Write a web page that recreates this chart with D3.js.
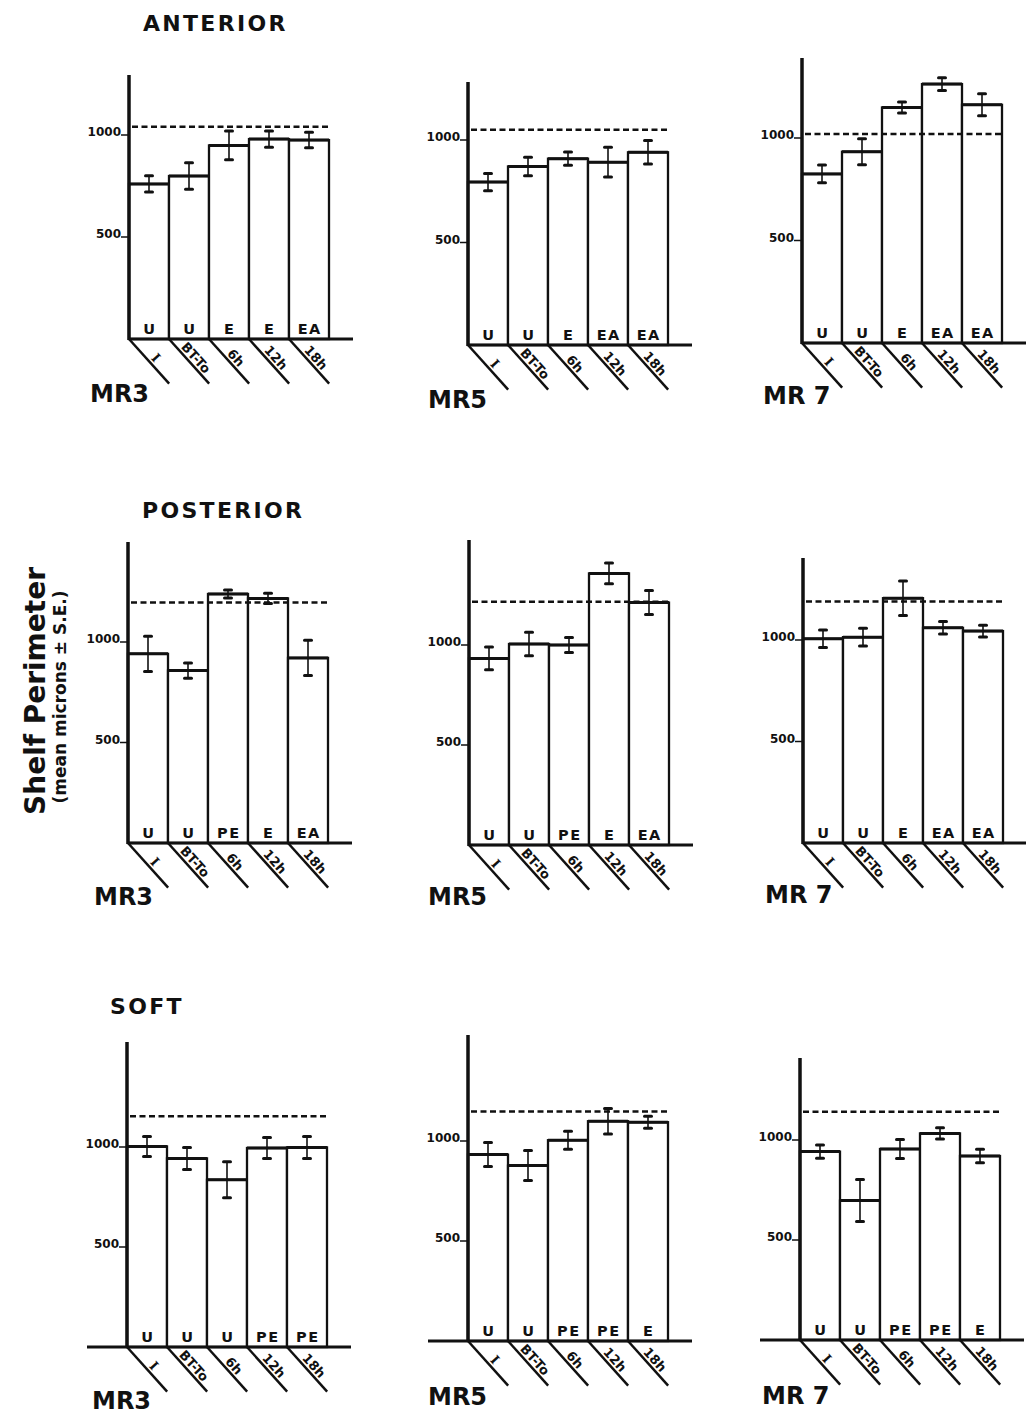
<!DOCTYPE html>
<html>
<head>
<meta charset="utf-8">
<script src="https://cdn.jsdelivr.net/npm/d3@7"></script>
<style>
body { margin: 0; background: #fff; }
text { font-family: "DejaVu Sans", sans-serif; font-weight: bold; fill: #111; }
</style>
</head>
<body>
<script>
var width = 1026,
	height = 1416;

// categories
var sections = ["ANTERIOR", "POSTERIOR", "SOFT"];
var strains = ["MR3", "MR5", "MR 7"];
var timepoints = ["I", "BT-To", "6h", "12h", "18h"];
var yTicks = [500, 1000];

// one row per panel: anterior MR3, MR5, MR7, posterior MR3, MR5, MR7, soft MR3, MR5, MR7
var means = [
	[760, 799, 949, 980, 975],
	[795, 871, 909, 892, 940],
	[825, 933, 1149, 1263, 1162],
	[941, 858, 1239, 1217, 921],
	[933, 1005, 1000, 1358, 1212],
	[1006, 1014, 1206, 1060, 1044],
	[1003, 943, 836, 995, 998],
	[932, 877, 1004, 1099, 1094],
	[942, 697, 955, 1033, 920]
];
var errors = [
	[40, 65, 70, 40, 38],
	[42, 45, 32, 73, 57],
	[43, 63, 27, 31, 54],
	[88, 38, 20, 25, 88],
	[57, 59, 38, 52, 60],
	[43, 44, 85, 31, 29],
	[50, 55, 90, 52, 55],
	[60, 75, 45, 64, 30],
	[33, 105, 48, 28, 34]
];
var stages = [
	["U", "U", "E", "E", "EA"],
	["U", "U", "E", "EA", "EA"],
	["U", "U", "E", "EA", "EA"],
	["U", "U", "PE", "E", "EA"],
	["U", "U", "PE", "E", "EA"],
	["U", "U", "E", "EA", "EA"],
	["U", "U", "U", "PE", "PE"],
	["U", "U", "PE", "PE", "E"],
	["U", "U", "PE", "PE", "E"]
];
// dashed control level per panel
var controls = [1040, 1050, 1020, 1197, 1216, 1190, 1154, 1147, 1141];

// where each panel sits on the page (scanned figure, so they differ a little)
var layout = [
	{ax: 129, y0: 339, y1000: 135, top: 75, lx: 90, ly: 402},
	{ax: 468, y0: 345, y1000: 140, top: 82, lx: 428, ly: 408},
	{ax: 802, y0: 343, y1000: 138, top: 58, lx: 763, ly: 404},
	{ax: 128, y0: 843, y1000: 642, top: 542, lx: 94, ly: 905},
	{ax: 469, y0: 845, y1000: 645, top: 540, lx: 428, ly: 905},
	{ax: 803, y0: 843, y1000: 640, top: 558, lx: 765, ly: 903},
	{ax: 127, y0: 1347, y1000: 1147, top: 1042, lx: 92, ly: 1409},
	{ax: 468, y0: 1341, y1000: 1141, top: 1035, lx: 428, ly: 1405},
	{ax: 800, y0: 1340, y1000: 1140, top: 1058, lx: 762, ly: 1404}
];
var titlePos = [[143, 31], [142, 518], [110, 1014]];

var svg = d3.select("body").append("svg")
	.attr("width", width)
	.attr("height", height);

// section titles
svg.selectAll("text.section")
	.data(sections)
.enter().append("text")
	.attr("class", "section")
	.attr("x", function(d, i) { return titlePos[i][0]; })
	.attr("y", function(d, i) { return titlePos[i][1]; })
	.style("font-size", "22px")
	.style("letter-spacing", "2.3px")
	.text(function(d) { return d; });

// shared y axis title
svg.append("text")
	.attr("transform", "translate(45,691) rotate(-90)")
	.attr("text-anchor", "middle")
	.style("font-size", "28px")
	.text("Shelf Perimeter");
svg.append("text")
	.attr("transform", "translate(66,697) rotate(-90)")
	.attr("text-anchor", "middle")
	.style("font-size", "17px")
	.text("(mean microns ± S.E.)");

var ang = 48 * Math.PI / 180,
	diagLen = 60;

function drawPanel(p) {
	var L = layout[p];
	var row = Math.floor(p / 3);
	var g = svg.append("g");

	var x = d3.scaleBand()
		.domain(timepoints)
		.range([L.ax, L.ax + 200])
		.padding(0);
	var y = d3.scaleLinear()
		.domain([0, 1000])
		.range([L.y0, L.y1000]);

	var data = timepoints.map(function(t, i) {
		return {t: t, mean: means[p][i], se: errors[p][i], stage: stages[p][i]};
	});

	// bars
	g.selectAll("rect")
		.data(data)
	.enter().append("rect")
		.attr("x", function(d) { return x(d.t); })
		.attr("y", function(d) { return y(d.mean); })
		.attr("width", x.bandwidth())
		.attr("height", function(d) { return L.y0 - y(d.mean); })
		.attr("fill", "#fff")
		.attr("stroke", "#111")
		.attr("stroke-width", 2.3);
	g.selectAll("line.top")
		.data(data)
	.enter().append("line")
		.attr("class", "top")
		.attr("x1", function(d) { return x(d.t); })
		.attr("x2", function(d) { return x(d.t) + x.bandwidth(); })
		.attr("y1", function(d) { return y(d.mean); })
		.attr("y2", function(d) { return y(d.mean); })
		.attr("stroke", "#111")
		.attr("stroke-width", 3);

	// control level
	g.append("line")
		.attr("x1", L.ax + 3)
		.attr("x2", L.ax + 200)
		.attr("y1", y(controls[p]))
		.attr("y2", y(controls[p]))
		.attr("stroke", "#111")
		.attr("stroke-width", 2.5)
		.attr("stroke-dasharray", "6,3.5");

	// error bars
	var cx = function(d) { return x(d.t) + x.bandwidth() / 2; };
	g.selectAll("line.err")
		.data(data)
	.enter().append("line")
		.attr("class", "err")
		.attr("x1", cx).attr("x2", cx)
		.attr("y1", function(d) { return y(d.mean + d.se); })
		.attr("y2", function(d) { return y(d.mean - d.se); })
		.attr("stroke", "#111")
		.attr("stroke-width", 1.6);
	[1, -1].forEach(function(s) {
		g.selectAll("line.cap" + (s > 0 ? "u" : "d"))
			.data(data)
		.enter().append("line")
			.attr("x1", function(d) { return cx(d) - 3.5; })
			.attr("x2", function(d) { return cx(d) + 3.5; })
			.attr("y1", function(d) { return y(d.mean + s * d.se); })
			.attr("y2", function(d) { return y(d.mean + s * d.se); })
			.attr("stroke", "#111")
			.attr("stroke-width", 3)
			.attr("stroke-linecap", "round");
	});

	// stage letters inside bars
	g.selectAll("text.stage")
		.data(data)
	.enter().append("text")
		.attr("class", "stage")
		.attr("x", function(d) { return cx(d) + 0.8; })
		.attr("y", L.y0 - 5)
		.attr("text-anchor", "middle")
		.style("font-size", "14.5px")
		.style("letter-spacing", "1.5px")
		.text(function(d) { return d.stage; });

	// y axis, ticks and baseline
	g.append("line")
		.attr("x1", L.ax).attr("x2", L.ax)
		.attr("y1", L.top).attr("y2", L.y0 + 1)
		.attr("stroke", "#111")
		.attr("stroke-width", 3.5);
	g.selectAll("line.tick")
		.data(yTicks)
	.enter().append("line")
		.attr("x1", L.ax - 8).attr("x2", L.ax)
		.attr("y1", function(d) { return y(d); })
		.attr("y2", function(d) { return y(d); })
		.attr("stroke", "#111")
		.attr("stroke-width", 1.5);
	g.selectAll("text.tick")
		.data(yTicks)
	.enter().append("text")
		.attr("x", L.ax - 8)
		.attr("y", function(d) { return y(d) + 1; })
		.attr("text-anchor", "end")
		.style("font-size", "12px")
		.text(function(d) { return d; });
	g.append("line")
		.attr("x1", row == 2 ? L.ax - 40 : L.ax)
		.attr("x2", L.ax + 224)
		.attr("y1", L.y0).attr("y2", L.y0)
		.attr("stroke", "#111")
		.attr("stroke-width", 3);

	// slanted timepoint labels
	var ux = Math.cos(ang), uy = Math.sin(ang);
	g.selectAll("line.diag")
		.data(timepoints)
	.enter().append("line")
		.attr("x1", function(d) { return x(d); })
		.attr("y1", L.y0)
		.attr("x2", function(d) { return x(d) + diagLen * ux; })
		.attr("y2", L.y0 + diagLen * uy)
		.attr("stroke", "#111")
		.attr("stroke-width", 2.5);
	g.selectAll("text.diag")
		.data(timepoints)
	.enter().append("text")
		.attr("transform", function(d) {
			var px = x(d) + 32 * ux + 3 * uy,
				py = L.y0 + 32 * uy - 3 * ux;
			return "translate(" + px + "," + py + ") rotate(48)";
		})
		.attr("text-anchor", "middle")
		.style("font-size", "13px")
		.style("font-family", function(d) { return d == "I" ? "'DejaVu Serif', serif" : null; })
		.text(function(d) { return d; });

	// strain label
	g.append("text")
		.attr("x", L.lx)
		.attr("y", L.ly)
		.style("font-size", "24px")
		.text(strains[p % 3]);
}

for (var p = 0; p < 9; p++) {
	drawPanel(p);
}
</script>
</body>
</html>
